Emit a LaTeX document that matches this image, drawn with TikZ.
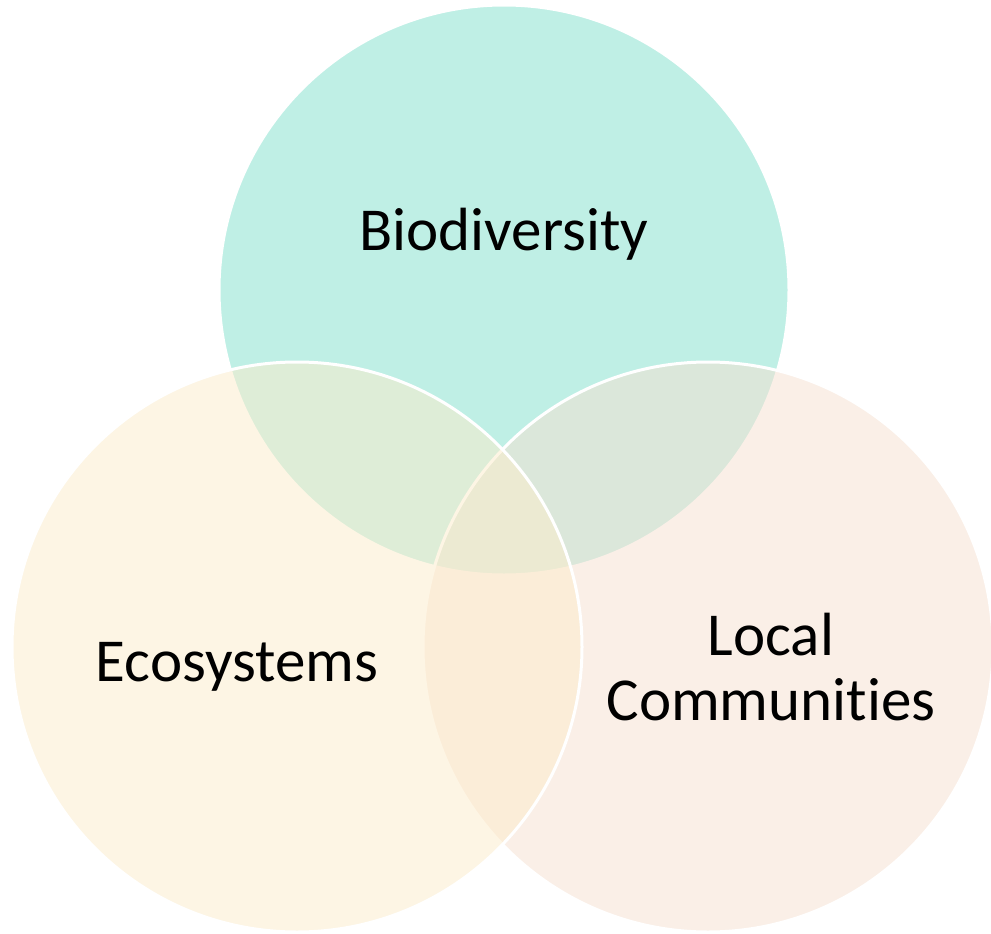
\documentclass[tikz,border=0pt]{standalone}
\usepackage{fontspec}
\setmainfont{Carlito}[RawFeature={-liga}]
\definecolor{cTop}{HTML}{81E1CD}
\definecolor{cLeft}{HTML}{FDEDCB}
\definecolor{cRight}{HTML}{F7E1D1}
\begin{document}
\begin{tikzpicture}[x=1pt,y=-1pt,
  venn/.style={draw=white,line width=3pt,fill opacity=0.5},
  lbl/.style={font=\fontsize{61}{65}\selectfont,text=black,align=center,inner sep=0pt}]
\useasboundingbox (0,0) rectangle (991,934);
\fill[white] (0,0) rectangle (991,934);
\path[venn,fill=cTop] (504,290) circle[radius=285];
\path[venn,fill=cRight] (708,647) circle[radius=285];
\path[venn,fill=cLeft] (297,647) circle[radius=285];
\node[lbl] (bio) at (504,234) {Biodiversity};
\node[lbl] (eco) at (237,667) {Ecosystems};
\node[lbl] (loc) at (771,667) {Local\\Communities};
\end{tikzpicture}
\end{document}
